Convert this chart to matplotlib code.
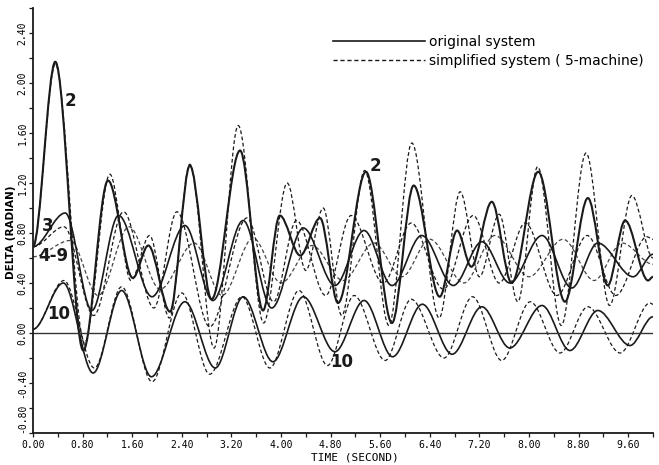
import matplotlib
matplotlib.use("Agg")
import matplotlib.pyplot as plt
from matplotlib.path import Path
from matplotlib.patches import PathPatch
from matplotlib.lines import Line2D
from matplotlib.ticker import MultipleLocator, FormatStrFormatter

# turning points (time s, delta rad)
s2_t = [0.00, 0.36, 0.81, 1.21, 1.61, 1.86, 2.21, 2.53, 2.88, 3.34, 3.71, 3.98, 4.31, 4.63,
        4.92, 5.37, 5.79, 6.14, 6.56, 6.84, 7.07, 7.40, 7.72, 8.15, 8.58, 8.95, 9.27, 9.55,
        9.92, 10.0]
s2_v = [0.69, 2.17, -0.14, 1.22, 0.44, 0.70, 0.17, 1.34, 0.27, 1.46, 0.18, 0.94, 0.62, 0.92,
        0.24, 1.29, 0.08, 1.18, 0.29, 0.82, 0.53, 1.05, 0.40, 1.29, 0.25, 1.08, 0.38, 0.90,
        0.42, 0.45]

d2_t = [0.00, 0.36, 0.83, 1.24, 1.58, 1.88, 2.20, 2.53, 2.92, 3.31, 3.72, 4.10, 4.40, 4.68,
        4.98, 5.35, 5.74, 6.11, 6.55, 6.89, 7.20, 7.52, 7.82, 8.14, 8.52, 8.92, 9.30, 9.66, 10.0]
d2_v = [0.69, 2.15, -0.08, 1.27, 0.42, 0.78, 0.12, 1.35, -0.12, 1.66, 0.08, 1.20, 0.50, 1.00,
        0.14, 1.30, 0.06, 1.52, 0.12, 1.13, 0.45, 0.95, 0.25, 1.33, 0.06, 1.44, 0.22, 1.10, 0.60]

s3_t = [0.00, 0.52, 0.95, 1.38, 1.92, 2.45, 2.90, 3.39, 3.85, 4.36, 4.87, 5.34, 5.79, 6.27,
        6.78, 7.24, 7.69, 8.21, 8.69, 9.11, 9.68, 10.0]
s3_v = [0.69, 0.96, 0.18, 0.94, 0.29, 0.86, 0.26, 0.90, 0.20, 0.84, 0.38, 0.82, 0.38, 0.78,
        0.38, 0.73, 0.40, 0.78, 0.36, 0.72, 0.45, 0.63]

d3_t = [0.00, 0.50, 0.98, 1.46, 1.95, 2.32, 2.85, 3.45, 3.88, 4.25, 4.72, 5.13, 5.65, 6.10,
        6.62, 7.10, 7.52, 7.94, 8.45, 8.94, 9.40, 9.90, 10.0]
d3_v = [0.69, 0.85, 0.14, 0.97, 0.20, 0.97, 0.05, 0.92, 0.25, 0.90, 0.30, 0.94, 0.40, 0.88,
        0.35, 0.94, 0.40, 0.88, 0.30, 0.78, 0.30, 0.77, 0.75]

d49_t = [0.00, 0.60, 1.05, 1.55, 2.05, 2.60, 3.05, 3.55, 4.00, 4.50, 5.00, 5.50, 5.95, 6.40,
         6.95, 7.45, 8.00, 8.55, 9.05, 9.50, 10.0]
d49_v = [0.61, 0.74, 0.30, 0.85, 0.35, 0.72, 0.30, 0.76, 0.40, 0.70, 0.42, 0.72, 0.45, 0.75,
         0.40, 0.78, 0.45, 0.75, 0.42, 0.72, 0.55]

s10_t = [0.00, 0.49, 0.97, 1.43, 1.91, 2.45, 2.94, 3.39, 3.87, 4.36, 4.87, 5.34, 5.80, 6.28,
         6.76, 7.24, 7.69, 8.21, 8.66, 9.11, 9.63, 10.0]
s10_v = [0.03, 0.40, -0.32, 0.34, -0.35, 0.25, -0.28, 0.29, -0.23, 0.29, -0.15, 0.26, -0.19,
         0.23, -0.17, 0.21, -0.12, 0.22, -0.14, 0.18, -0.10, 0.13]

d10_t = [0.00, 0.50, 0.99, 1.43, 1.92, 2.40, 2.85, 3.37, 3.82, 4.29, 4.75, 5.18, 5.68, 6.10,
         6.63, 7.09, 7.56, 8.02, 8.50, 8.95, 9.47, 9.95, 10.0]
d10_v = [0.03, 0.42, -0.28, 0.37, -0.39, 0.32, -0.33, 0.29, -0.28, 0.34, -0.26, 0.30, -0.22,
         0.27, -0.20, 0.29, -0.22, 0.25, -0.16, 0.21, -0.16, 0.24, 0.23]

curve_labels = ["2", "3", "4-9", "10", "2", "10"]
label_t = [0.60, 0.24, 0.33, 0.42, 5.52, 4.98]
label_v = [1.86, 0.86, 0.62, 0.15, 1.34, -0.23]

INK = "#1a1a1a"


def swing(ax, ts, vs, dashed=False, lw=1.3, color=INK):
    # smooth stroke through the turning points (flat tangent at each one)
    verts = [(ts[0], vs[0])]
    codes = [Path.MOVETO]
    for i in range(len(ts) - 1):
        dt = ts[i + 1] - ts[i]
        verts += [(ts[i] + dt / 3, vs[i]), (ts[i + 1] - dt / 3, vs[i + 1]), (ts[i + 1], vs[i + 1])]
        codes += [Path.CURVE4] * 3
    patch = PathPatch(Path(verts, codes), fill=False, lw=lw, edgecolor=color,
                      linestyle=(0, (3, 2)) if dashed else "-", transform=ax.transData,
                      capstyle="butt", joinstyle="round")
    ax.add_patch(patch)


fig = plt.figure(figsize=(6.59, 4.65), dpi=100)
ax = fig.add_axes([33 / 659, 1 - 433 / 465, 620 / 659, 425 / 465])
ax.set_xlim(0, 10.0)
ax.set_ylim(-0.8, 2.6)

ax.axhline(0, color="#333333", lw=1.0)

swing(ax, d49_t, d49_v, dashed=True, lw=0.9, color="#444444")
swing(ax, d3_t, d3_v, dashed=True, lw=0.9)
swing(ax, d10_t, d10_v, dashed=True, lw=0.9)
swing(ax, d2_t, d2_v, dashed=True, lw=0.9)
swing(ax, s10_t, s10_v, lw=1.2)
swing(ax, s3_t, s3_v, lw=1.2)
swing(ax, s2_t, s2_v, lw=1.5)

for txt, t, v in zip(curve_labels, label_t, label_v):
    ax.text(t, v, txt, fontsize=12, fontweight="bold", ha="center", va="center", color=INK)

for side in ("top", "right"):
    ax.spines[side].set_visible(False)
for side in ("left", "bottom"):
    ax.spines[side].set_linewidth(1.3)
    ax.spines[side].set_color(INK)

ax.xaxis.set_major_locator(MultipleLocator(0.8))
ax.xaxis.set_minor_locator(MultipleLocator(0.4))
ax.yaxis.set_major_locator(MultipleLocator(0.4))
ax.yaxis.set_minor_locator(MultipleLocator(0.2))
ax.xaxis.set_major_formatter(FormatStrFormatter("%.2f"))
ax.yaxis.set_major_formatter(FormatStrFormatter("%.2f"))
ax.tick_params(which="both", direction="out", length=3, width=0.9, color=INK)
ax.tick_params(axis="x", labelsize=7, pad=2)
ax.tick_params(axis="y", labelsize=7, pad=1, labelrotation=90)

fig.text(355 / 659, 1 - 457 / 465, "TIME (SECOND)", fontsize=8, ha="center", va="center",
         family="DejaVu Sans Mono")
fig.text(11 / 659, 1 - 232 / 465, "DELTA (RADIAN)", fontsize=7.5, fontweight="bold",
         rotation=90, ha="center", va="center")

handles = [Line2D([], [], color=INK, lw=1.2),
           Line2D([], [], color=INK, lw=1.0, linestyle=(0, (3, 2)))]
fig.legend(handles, ["original system", "simplified system ( 5-machine)"],
           loc="upper left", bbox_to_anchor=(333 / 659, 1 - 35 / 465), frameon=False,
           fontsize=10, handlelength=6.6, handletextpad=0.3, labelspacing=0.35,
           borderpad=0, borderaxespad=0)

fig.canvas.draw()
for tick in ax.xaxis.get_major_ticks() + ax.yaxis.get_major_ticks():
    tick.label1.set_family("DejaVu Sans Mono")
for tick in ax.yaxis.get_major_ticks():
    tick.label1.set_va("center")
    # lowest label sits just above the corner so it clears the "0.00" on the time axis
    if abs(tick.get_loc() + 0.8) < 1e-6:
        tick.label1.set_va("bottom")

fig.savefig("out.png", dpi=100)
